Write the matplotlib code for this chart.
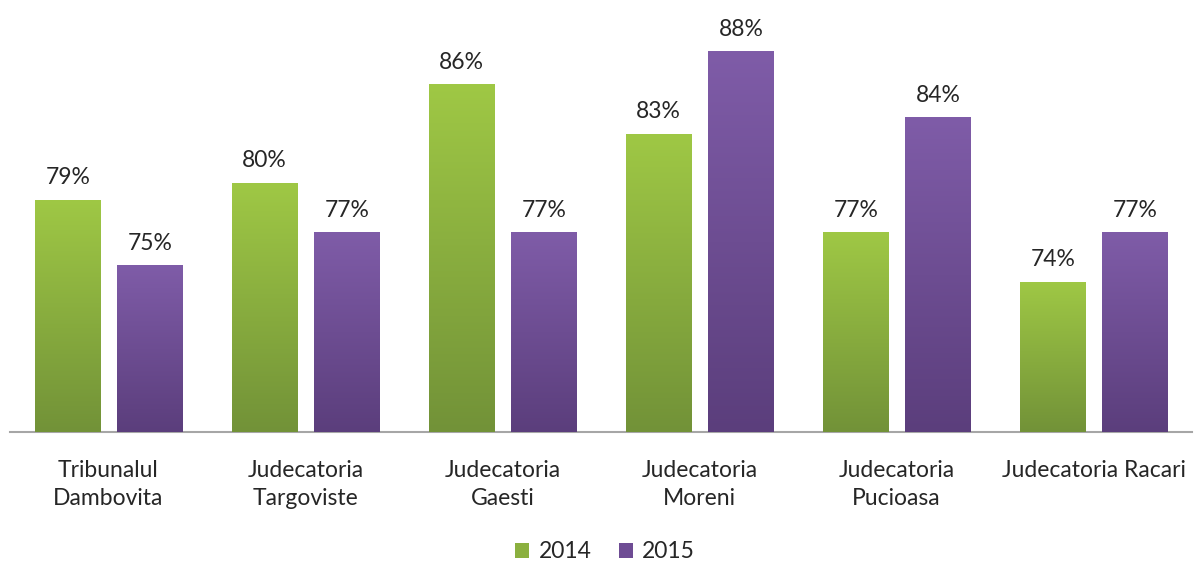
import matplotlib
matplotlib.use("Agg")
import matplotlib.pyplot as plt
import numpy as np
from matplotlib.colors import LinearSegmentedColormap
from matplotlib.patches import Patch

categories = ["Tribunalul\nDambovita", "Judecatoria\nTargoviste", "Judecatoria\nGaesti",
              "Judecatoria\nMoreni", "Judecatoria\nPucioasa", "Judecatoria Racari"]
series_names = ["2014", "2015"]
values_2014 = [79, 80, 86, 83, 77, 74]
values_2015 = [75, 77, 77, 88, 84, 77]

plt.rcParams['font.family'] = ['Lato', 'DejaVu Sans']
txt = "#262626"

fig = plt.figure(figsize=(11.97, 5.64), dpi=100)
ax = fig.add_axes([10/1197, 132/564, 1182/1197, 432/564])
ymin, ymax = 64.9, 91.1
ax.set_xlim(-0.5, 5.5)
ax.set_ylim(ymin, ymax)

colors = {"2014": ("#9fc845", "#729238"), "2015": ("#7f5ca8", "#5b3e7c")}
width = 0.335
offsets = [-0.207, 0.212]
x = np.arange(len(categories))

for vals, name, off in [(values_2014, "2014", offsets[0]), (values_2015, "2015", offsets[1])]:
    top_c, bot_c = colors[name]
    cmap = LinearSegmentedColormap.from_list(name, [bot_c, top_c])
    bars = ax.bar(x + off, np.array(vals) - ymin, width, bottom=ymin, color=top_c, zorder=2)
    for b, v in zip(bars, vals):
        x0 = b.get_x()
        grad = np.linspace(0, 1, 256).reshape(-1, 1)
        im = ax.imshow(grad, extent=[x0, x0 + width, ymin, v], origin='lower',
                       cmap=cmap, aspect='auto', zorder=3)
        im.set_clip_path(b)
        ax.text(x0 + width / 2, v + 0.7, f"{v}%", ha='center', va='bottom',
                fontsize=16.5, color=txt, zorder=4)

ax.set_xlim(-0.5, 5.5)
ax.set_ylim(ymin, ymax)
for s in ["top", "right", "left"]:
    ax.spines[s].set_visible(False)
ax.spines["bottom"].set_color("#a6a6a6")
ax.spines["bottom"].set_linewidth(1.5)
ax.set_yticks([])
ax.set_xticks(x)
ax.set_xticklabels(categories, fontsize=16.5, color=txt, linespacing=1.4)
ax.tick_params(axis='x', length=0, pad=20)

handles = [Patch(facecolor=("#8bb03f" if n == "2014" else "#6e4c94"), label=n)
           for n in series_names]
fig.legend(handles=handles, loc='center', bbox_to_anchor=(605/1197, 1 - 552/564), ncol=2,
           frameon=False, fontsize=16.5, handlelength=0.6, handleheight=0.6,
           handletextpad=0.4, columnspacing=1.2, labelcolor=txt)

fig.savefig("out.png", dpi=100)
